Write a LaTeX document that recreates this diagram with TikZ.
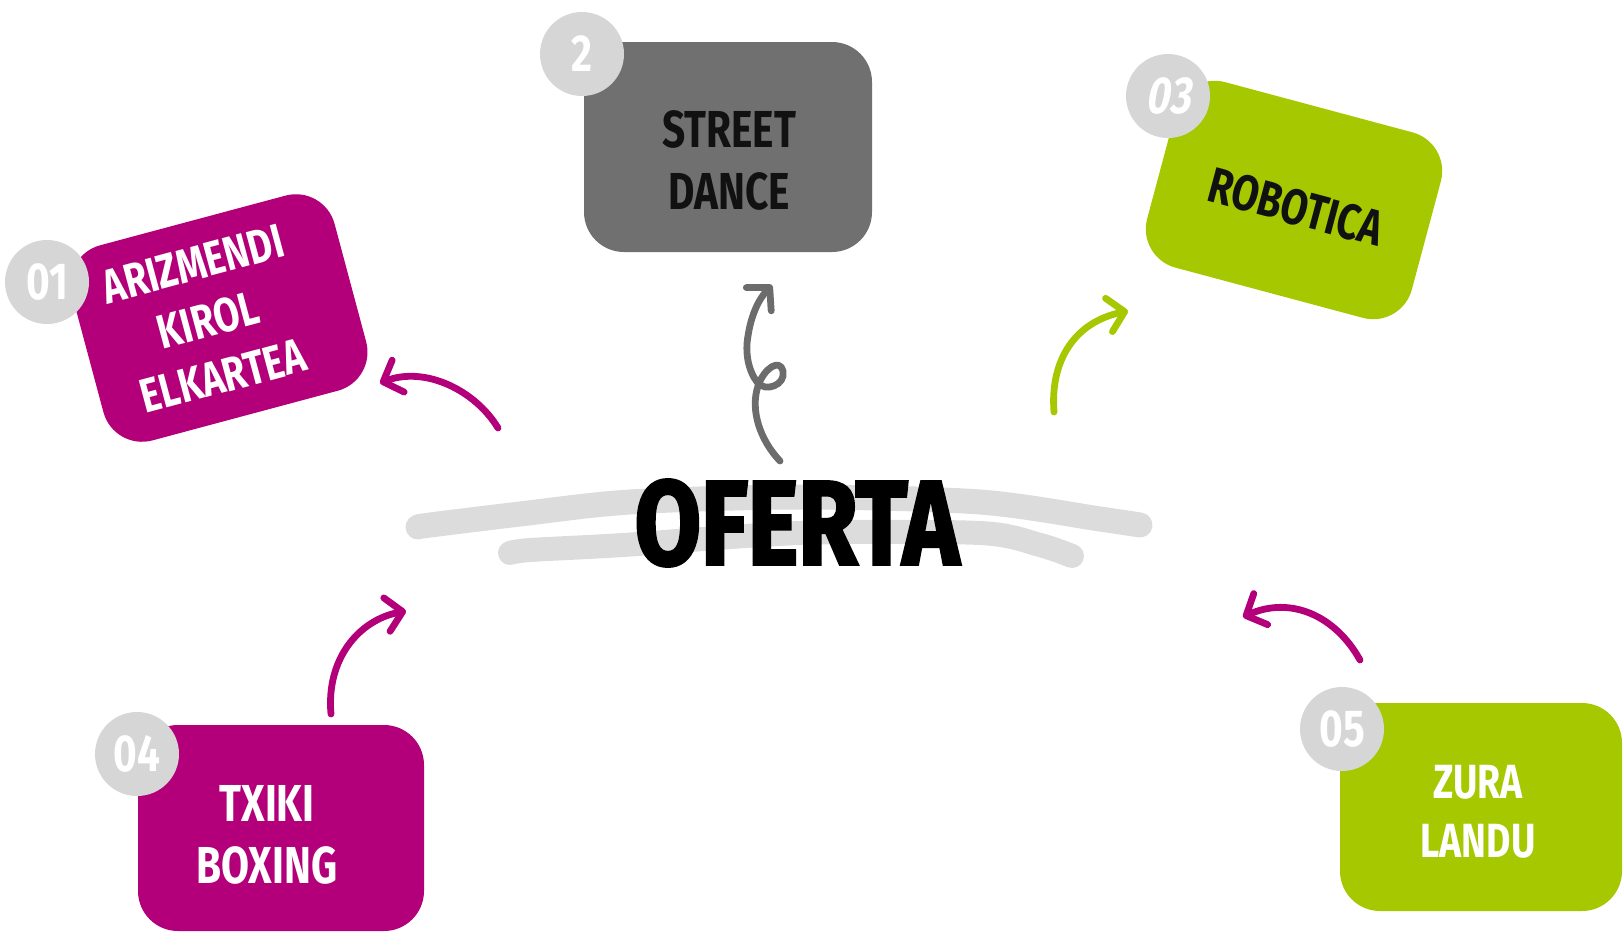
\documentclass[tikz,border=0pt]{standalone}
\usepackage{fontspec}
\newfontfamily\cfont[FakeStretch=0.78]{Fira Sans}
\newfontfamily\slfont[FakeStretch=0.78,FakeSlant=0.18]{Fira Sans}
\newfontfamily\bigfont[FakeStretch=0.8,FakeBold=2.2]{Fira Sans}
\usetikzlibrary{arrows.meta}
\definecolor{mag}{RGB}{179,0,122}
\definecolor{lime}{RGB}{166,200,0}
\definecolor{boxgray}{RGB}{112,112,112}
\definecolor{dotgray}{RGB}{214,214,214}
\definecolor{brush}{RGB}{220,220,220}
\definecolor{arrgray}{RGB}{108,108,108}
\definecolor{ink}{RGB}{17,17,17}
\tikzset{
  card/.style={rectangle, rounded corners=20pt, inner sep=0pt},
  cardtext/.style={align=center, inner sep=0pt, font={\cfont\bfseries\fontsize{26}{31}\selectfont}},
  numdot/.style={circle, fill=dotgray, minimum size=42pt, inner sep=0pt, text=white,
    font={\cfont\bfseries\fontsize{26}{26}\selectfont}},
  curvy/.style={line width=3.4pt, line cap=round, line join=round, -{Straight Barb[length=8pt,width=17pt,round]}},
  brushstroke/.style={draw=brush, line cap=round, line join=round},
}
\begin{document}
\begin{tikzpicture}[x=0.5pt,y=-0.5pt]
\useasboundingbox (0,0) rectangle (1623,933);

% brush strokes behind the title
\draw[brushstroke, line width=12.5pt] plot[smooth] coordinates {(418,527) (430,525) (520,514) (630,502) (800,497) (980,502) (1100,519) (1140,525)};
\draw[brushstroke, line width=12pt] plot[smooth] coordinates {(510,553) (530,550) (623,545) (800,533) (980,533) (1040,545) (1072,556)};
\node[inner sep=0pt, font={\bigfont\bfseries\fontsize{60}{60}\selectfont}, text=black] (oferta) at (797,523) {OFERTA};

% card 1
\node[card, fill=mag, minimum width=136pt, minimum height=101pt, rotate=15] (c1) at (219,318) {};
\node[cardtext, text=white, rotate=15, font={\cfont\bfseries\fontsize{24}{29}\selectfont}] (t1) at (208,320) {ARIZMENDI\\KIROL\\ELKARTEA};
\node[numdot] (n1) at (47,282) {01};

% card 2
\node[card, fill=boxgray, minimum width=144pt, minimum height=105pt] (c2) at (728,147) {};
\node[cardtext, text=ink] (t2) at (729,160) {STREET\\DANCE};
\node[numdot] (n2) at (582,54) {2};

% card 3
\node[card, fill=lime, minimum width=137pt, minimum height=96pt, rotate=-15] (c3) at (1294,200) {};
\node[cardtext, text=ink, rotate=-15, font={\cfont\bfseries\fontsize{25}{30}\selectfont}] (t3) at (1296,207) {ROBOTICA};
\node[numdot, font={\slfont\bfseries\fontsize{26}{26}\selectfont}] (n3) at (1168,96) {03};

% card 4
\node[card, fill=mag, minimum width=143pt, minimum height=103pt] (c4) at (281,828) {};
\node[cardtext, text=white] (t4) at (267,835) {TXIKI\\BOXING};
\node[numdot] (n4) at (137,754) {04};

% card 5
\node[card, fill=lime, minimum width=141pt, minimum height=104pt] (c5) at (1481,807) {};
\node[cardtext, text=white, font={\cfont\bfseries\fontsize{24}{29.5}\selectfont}] (t5) at (1478,812) {ZURA\\LANDU};
\node[numdot] (n5) at (1342,729) {05};

% arrows
\coordinate (a1s) at (498,428); \coordinate (a1e) at (380,383);
\draw[curvy, mag] (a1s) .. controls (475,390) and (425,366) .. (a1e);

\coordinate (a2s) at (780,461); \coordinate (a2e) at (772,285);
\draw[curvy, arrgray] (a2s) .. controls (760,440) and (750,410) .. (758,386)
  .. controls (764,368) and (780,358) .. (783,371)
  .. controls (786,385) and (765,393) .. (757,382)
  .. controls (748,370) and (745,352) .. (748,336)
  .. controls (751,316) and (758,300) .. (a2e);

\coordinate (a3s) at (1054,412); \coordinate (a3e) at (1128,311);
\draw[curvy, lime] (a3s) .. controls (1050,360) and (1075,322) .. (a3e);

\coordinate (a4s) at (331,714); \coordinate (a4e) at (406,611);
\draw[curvy, mag] (a4s) .. controls (326,660) and (358,620) .. (a4e);

\coordinate (a5s) at (1360,660); \coordinate (a5e) at (1243,617);
\draw[curvy, mag] (a5s) .. controls (1335,615) and (1290,596) .. (a5e);
\end{tikzpicture}
\end{document}
